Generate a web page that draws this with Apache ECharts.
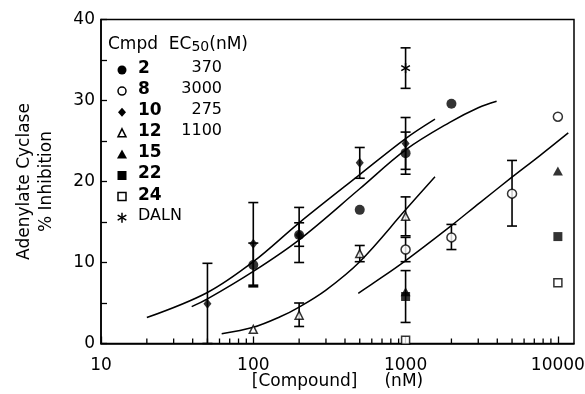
<!DOCTYPE html>
<html><head><meta charset="utf-8">
<script src="https://cdn.jsdelivr.net/npm/echarts@6/dist/echarts.min.js"></script>
<style>html,body{margin:0;padding:0;background:#fff}#c{width:585px;height:394px}</style>
</head><body><div id="c"></div>
<script>
// ---- data ----
const xTickLabels = ['10', '100', '1000', '10000'];
const yTickLabels = ['0', '10', '20', '30', '40'];
const xMinorTicks = [20,30,40,50,60,70,80,90,200,300,400,500,600,700,800,900,2000,3000,4000,5000,6000,7000,8000,9000];

const compounds = ['2', '8', '10', '12', '15', '22', '24', 'DALN'];
const ec50Values = ['370', '3000', '275', '1100', '', '', '', ''];

// points [concentration nM, % inhibition]
const pts2  = [[100, 9.7], [200, 13.4], [500, 16.5], [1000, 23.5], [2000, 29.6]];
const pts8  = [[1000, 11.6], [2000, 13.1], [5000, 18.5], [10000, 28.0]];
const pts10 = [[50, 4.9], [100, 12.3], [200, 13.4], [500, 22.3], [1000, 24.7]];
const pts12 = [[100, 1.75], [200, 3.5], [500, 11.1], [1000, 15.7]];
const pts15 = [[1000, 6.4], [10000, 21.3]];
const pts22 = [[1000, 5.8], [10000, 13.2]];
const pts24 = [[1000, 0.4], [10000, 7.5]];
const ptsDALN = [[1000, 34.0]];

// error bars [concentration, low, high]
const err2  = [[100, 7.0, 12.4], [200, 10.0, 16.8], [1000, 20.9, 26.1]];
const err8  = [[1000, 10.1, 13.1], [2000, 11.6, 14.7], [5000, 14.5, 22.6]];
const err10 = [[50, 0, 9.9], [100, 7.2, 17.4], [200, 12.0, 14.9], [500, 20.4, 24.2], [1000, 21.5, 27.9]];
const err12 = [[200, 2.1, 5.0], [500, 10.1, 12.1], [1000, 13.3, 18.1]];
const err22 = [[1000, 2.6, 9.0]];
const errDALN = [[1000, 31.5, 36.5]];

// fitted curves
const curve10 = [[20, 3.2], [50, 6.3], [100, 10.1], [200, 14.9], [500, 20.85], [1000, 25.3], [1560, 27.7]];
const curve2  = [[39.4, 4.55], [50, 5.5], [100, 8.9], [200, 12.8], [500, 19.1], [1000, 23.9], [1950, 27.3], [3000, 29.1], [3960, 29.9]];
const curve12 = [[62, 1.2], [100, 2.0], [150, 3.3], [200, 4.5], [300, 6.6], [500, 10.1], [1000, 16.5], [1560, 20.6]];
const curve8  = [[489, 6.2], [614, 7.45], [986, 10.15], [1950, 14.4], [3080, 17.4], [4970, 20.5], [7620, 23.2], [11700, 26.0]];

// ---- chart ----
const FONT = 'DejaVu Sans';
const chart = echarts.init(document.getElementById('c'), null, {renderer: 'canvas'});

function errRender(params, api) {
  const x = api.value(0), lo = api.value(1), hi = api.value(2);
  const a = api.coord([x, lo]), b = api.coord([x, hi]);
  const w = 5;
  const st = {stroke: '#000', lineWidth: 1.6};
  return {type: 'group', children: [
    {type: 'line', shape: {x1: a[0], y1: a[1], x2: b[0], y2: b[1]}, style: st},
    {type: 'line', shape: {x1: a[0] - w, y1: a[1], x2: a[0] + w, y2: a[1]}, style: st},
    {type: 'line', shape: {x1: b[0] - w, y1: b[1], x2: b[0] + w, y2: b[1]}, style: st}
  ]};
}
function errSeries(data) {
  return {type: 'custom', renderItem: errRender, data: data, encode: {x: 0, y: [1, 2]}, z: 3, silent: true, clip: false};
}
function asteriskShapes(cx, cy, r) {
  const st = {stroke: '#000', lineWidth: 1.5};
  const out = [];
  [90, 30, 150].forEach(function (deg) {
    const t = deg * Math.PI / 180;
    out.push({type: 'line', shape: {x1: cx - r * Math.cos(t), y1: cy - r * Math.sin(t), x2: cx + r * Math.cos(t), y2: cy + r * Math.sin(t)}, style: st});
  });
  return out;
}
function curveSeries(data) {
  return {type: 'line', data: data, smooth: 0.35, showSymbol: false, symbol: 'none',
    lineStyle: {color: '#000', width: 1.5}, z: 2, silent: true};
}
function ptSeries(data, symbol, filled, size) {
  return {type: 'scatter', data: data, symbol: symbol, symbolSize: size,
    itemStyle: filled ? {color: '#000'} : {color: '#fff', borderColor: '#000', borderWidth: 1.5},
    z: 5, silent: true};
}

// legend graphics
const legendSymbols = ['circle', 'ocircle', 'diamond', 'otriangle', 'triangle', 'square', 'osquare', 'asterisk'];
const graphics = [];
graphics.push({type: 'text', left: 108, top: 33, z: 10, style: {
  text: '{a|Cmpd  EC}{s|50}{a|(nM)}', rich: {
    a: {fontFamily: FONT, fontSize: 17, fill: '#000', lineHeight: 18, verticalAlign: 'top'},
    s: {fontFamily: FONT, fontSize: 14, fill: '#000', lineHeight: 18, verticalAlign: 'bottom', padding: [7, 0, 0, 0]}
  }}});
compounds.forEach(function (name, i) {
  const cy = 70 + 21.1 * i, cx = 122;
  const k = legendSymbols[i];
  if (k === 'circle') graphics.push({type: 'circle', shape: {cx: cx, cy: cy, r: 4.5}, style: {fill: '#000'}, z: 10});
  if (k === 'ocircle') graphics.push({type: 'circle', shape: {cx: cx, cy: cy, r: 4}, style: {fill: '#fff', stroke: '#000', lineWidth: 1.5}, z: 10});
  if (k === 'diamond') graphics.push({type: 'polygon', shape: {points: [[cx, cy - 4.5], [cx + 4, cy], [cx, cy + 4.5], [cx - 4, cy]]}, style: {fill: '#000'}, z: 10});
  if (k === 'otriangle') graphics.push({type: 'polygon', shape: {points: [[cx, cy - 4.5], [cx + 4, cy + 3.5], [cx - 4, cy + 3.5]]}, style: {fill: '#fff', stroke: '#000', lineWidth: 1.5}, z: 10});
  if (k === 'triangle') graphics.push({type: 'polygon', shape: {points: [[cx, cy - 5], [cx + 5, cy + 4], [cx - 5, cy + 4]]}, style: {fill: '#000'}, z: 10});
  if (k === 'square') graphics.push({type: 'rect', shape: {x: cx - 4.5, y: cy - 4.5, width: 9, height: 9}, style: {fill: '#000'}, z: 10});
  if (k === 'osquare') graphics.push({type: 'rect', shape: {x: cx - 4, y: cy - 4, width: 8, height: 8}, style: {fill: '#fff', stroke: '#000', lineWidth: 1.5}, z: 10});
  if (k === 'asterisk') asteriskShapes(cx, cy, 5).forEach(function (g) { g.z = 10; graphics.push(g); });
  const isName = name === 'DALN';
  graphics.push({type: 'text', left: 138, top: cy - 10, z: 10, style: {
    text: name, fontFamily: FONT, fontSize: isName ? 16 : 17, fontWeight: isName ? 'normal' : 'bold', fill: '#000'}});
  if (ec50Values[i]) graphics.push({type: 'text', right: 585 - 222, top: cy - 10, z: 10, style: {
    text: ec50Values[i], fontFamily: FONT, fontSize: 16, fill: '#000', align: 'right'}});
});

const option = {
  animation: false,
  backgroundColor: '#fff',
  textStyle: {fontFamily: FONT},
  grid: {left: 101, right: 11, top: 19.5, bottom: 50.5, show: true, borderColor: '#000', borderWidth: 1.5,
    backgroundColor: 'transparent', containLabel: false, outerBoundsMode: 'none'},
  xAxis: {
    type: 'log', logBase: 10, min: 10, max: 12760,
    name: '[Compound]     (nM)', nameLocation: 'middle', nameGap: 30, nameMoveOverlap: false,
    nameTextStyle: {fontFamily: FONT, fontSize: 17, color: '#000', verticalAlign: 'top'},
    axisLine: {lineStyle: {color: '#000', width: 1.5}},
    axisTick: {inside: true, length: 7, lineStyle: {color: '#000', width: 1.3}},
    splitLine: {show: false},
    axisLabel: {fontFamily: FONT, fontSize: 17, color: '#000', margin: 14,
      formatter: function (v) { const i = Math.round(Math.log10(v)) - 1; return xTickLabels[i] || ''; }}
  },
  yAxis: {
    type: 'value', min: 0, max: 40, interval: 5,
    name: 'Adenylate Cyclase\n% Inhibition', nameLocation: 'middle', nameGap: 43, nameRotate: 90, nameMoveOverlap: false,
    nameTextStyle: {fontFamily: FONT, fontSize: 17, color: '#000', lineHeight: 22},
    axisLine: {show: true, lineStyle: {color: '#000', width: 1.5}},
    axisTick: {inside: true, length: 6, lineStyle: {color: '#000', width: 1.3}},
    splitLine: {show: false},
    axisLabel: {fontFamily: FONT, fontSize: 17, color: '#000', margin: 6,
      formatter: function (v) { return v % 10 === 0 ? yTickLabels[v / 10] : ''; }}
  },
  graphic: graphics,
  series: [
    {type: 'custom', data: xMinorTicks.map(function (v) { return [v, 0]; }), encode: {x: 0, y: 1}, clip: false, silent: true, z: 4,
      renderItem: function (params, api) {
        const p = api.coord([api.value(0), api.value(1)]);
        return {type: 'line', shape: {x1: p[0], y1: p[1], x2: p[0], y2: p[1] - 5}, style: {stroke: '#000', lineWidth: 1.3}};
      }},
    curveSeries(curve10), curveSeries(curve2), curveSeries(curve12), curveSeries(curve8),
    errSeries(err2), errSeries(err8), errSeries(err10), errSeries(err12), errSeries(err22), errSeries(errDALN),
    ptSeries(pts10, 'diamond', true, [8, 10]),
    ptSeries(pts2, 'circle', true, 10),
    ptSeries(pts8, 'circle', false, 9),
    ptSeries(pts12, 'triangle', false, [8, 8]),
    ptSeries(pts22, 'rect', true, 9),
    ptSeries(pts15, 'triangle', true, [10, 9]),
    ptSeries(pts24, 'rect', false, 8),
    {type: 'custom', data: ptsDALN, encode: {x: 0, y: 1}, clip: false, silent: true, z: 6,
      renderItem: function (params, api) {
        const p = api.coord([api.value(0), api.value(1)]);
        return {type: 'group', children: asteriskShapes(p[0], p[1], 5)};
      }}
  ]
};
chart.setOption(option);
</script>
</body></html>
